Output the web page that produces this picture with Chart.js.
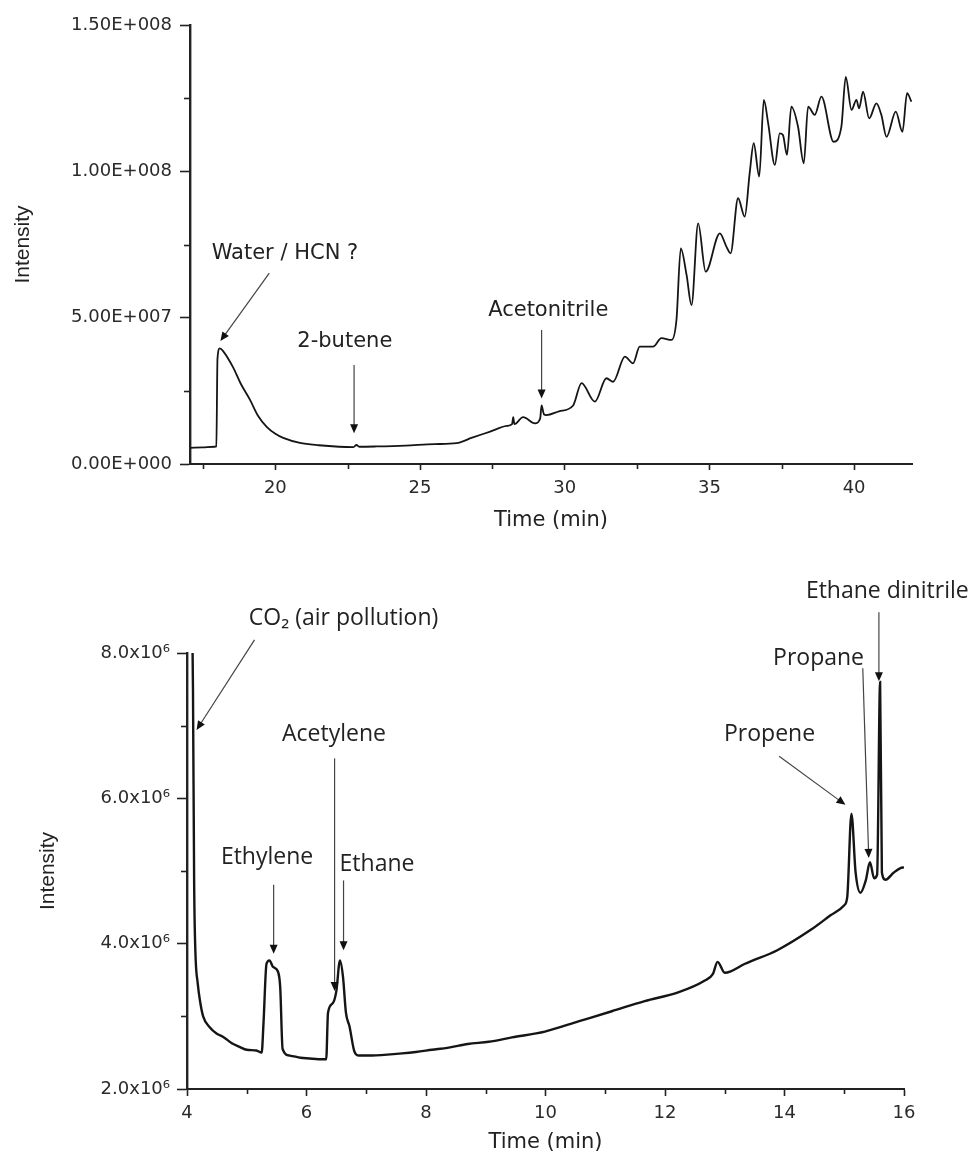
<!DOCTYPE html>
<html>
<head>
<meta charset="utf-8">
<script src="https://cdn.jsdelivr.net/npm/chart.js@4/dist/chart.umd.min.js"></script>
<style>
body { margin: 0; background: #fff; width: 979px; height: 1158px; overflow: hidden; position: relative; }
canvas { position: absolute; left: 0; }
#topChart { top: 0; }
#bottomChart { top: 545px; }
</style>
</head>
<body>
<canvas id="topChart" width="979" height="545"></canvas>
<canvas id="bottomChart" width="979" height="613"></canvas>
<script>
// upper chromatogram (17-42 min)
var topTime = [17.05, 17.5, 17.9, 17.96, 18.0, 18.08, 18.2, 18.54, 18.8, 19.12, 19.4, 19.7, 20.0, 20.27, 20.85,
  21.5, 22.2, 22.7, 22.8, 22.9, 23.5, 24.5, 25.5, 26.26, 26.8, 27.4, 28.0, 28.18, 28.22, 28.26, 28.56, 28.97,
  29.15, 29.2, 29.28, 29.37, 29.8, 30.29, 30.58, 31.04, 31.44, 31.67, 32.08, 32.36, 32.59, 33.05, 33.34, 33.69,
  33.86, 34.01, 34.21, 34.38, 34.61, 34.87, 35.36, 35.59, 35.73, 35.99, 36.22, 36.39, 36.53, 36.72, 36.88, 37.03,
  37.26, 37.43, 37.54, 37.68, 37.83, 38.06, 38.26, 38.41, 38.64, 38.87, 39.29, 39.56, 39.71, 39.91, 40.08, 40.17,
  40.31, 40.52, 40.77, 40.94, 41.12, 41.44, 41.67, 41.83, 41.98];
var topIntensity = [5.5e6, 5.7e6, 5.9e6, 6.0e6, 3.6e7, 3.95e7, 3.85e7, 3.3e7, 2.75e7, 2.2e7, 1.65e7, 1.27e7, 1.03e7, 8.9e6, 7.2e6,
  6.4e6, 5.9e6, 5.8e6, 6.5e6, 5.9e6, 6.0e6, 6.3e6, 6.8e6, 7.1e6, 9.0e6, 1.1e7, 1.3e7, 1.36e7, 1.6e7, 1.36e7, 1.6e7, 1.39e7,
  1.55e7, 2.0e7, 1.7e7, 1.67e7, 1.8e7, 2.0e7, 2.76e7, 2.13e7, 2.93e7, 2.81e7, 3.67e7, 3.44e7, 4.01e7, 4.01e7, 4.3e7, 4.24e7,
  4.92e7, 7.37e7, 6.46e7, 5.43e7, 8.22e7, 6.57e7, 7.88e7, 7.42e7, 7.2e7, 9.08e7, 8.45e7, 9.93e7, 1.096e8, 9.82e7, 1.244e8, 1.164e8,
  1.022e8, 1.13e8, 1.124e8, 1.056e8, 1.221e8, 1.153e8, 1.027e8, 1.221e8, 1.193e8, 1.255e8, 1.101e8, 1.153e8, 1.323e8, 1.21e8, 1.244e8, 1.215e8,
  1.272e8, 1.181e8, 1.232e8, 1.193e8, 1.118e8, 1.204e8, 1.135e8, 1.267e8, 1.238e8];
var topXTicks = [20, 25, 30, 35, 40];
var topXMinor = [17.5, 22.5, 27.5, 32.5, 37.5];
var topYTicks = [0, 5e7, 1e8, 1.5e8];
var topYLabels = ['0.00E+000', '5.00E+007', '1.00E+008', '1.50E+008'];
var topYMinor = [2.5e7, 7.5e7, 1.25e8];

// lower chromatogram (4-16 min)
var botTime = [4.08, 4.10, 4.12, 4.14, 4.18, 4.22, 4.27, 4.38, 4.5, 4.6, 4.75, 4.88, 5.0, 5.16, 5.25, 5.28, 5.33, 5.38,
  5.44, 5.52, 5.56, 5.6, 5.72, 5.9, 6.05, 6.2, 6.33, 6.36, 6.44, 6.5, 6.56, 6.61, 6.66, 6.72, 6.8, 6.88, 7.1, 7.3,
  7.6, 7.83, 8.1, 8.38, 8.7, 9.05, 9.44, 9.99, 10.55, 11.11, 11.66, 12.22, 12.66, 12.8, 12.88, 13.0, 13.1, 13.33,
  13.88, 14.44, 14.77, 15.0, 15.05, 15.12, 15.19, 15.27, 15.36, 15.43, 15.5, 15.55, 15.6, 15.63, 15.69, 15.83, 15.94, 16.0];
var botIntensity = [9.0e6, 7.5e6, 4.8e6, 3.9e6, 3.45e6, 3.2e6, 3.0e6, 2.85e6, 2.76e6, 2.72e6, 2.63e6, 2.58e6, 2.54e6, 2.53e6, 2.5e6, 2.9e6, 3.72e6, 3.77e6,
  3.68e6, 3.62e6, 3.4e6, 2.55e6, 2.46e6, 2.43e6, 2.42e6, 2.41e6, 2.41e6, 3.05e6, 3.18e6, 3.35e6, 3.77e6, 3.55e6, 3.05e6, 2.86e6, 2.52e6, 2.46e6, 2.46e6, 2.47e6,
  2.49e6, 2.51e6, 2.54e6, 2.57e6, 2.62e6, 2.65e6, 2.71e6, 2.79e6, 2.93e6, 3.07e6, 3.21e6, 3.33e6, 3.49e6, 3.58e6, 3.75e6, 3.6e6, 3.62e6, 3.72e6,
  3.91e6, 4.19e6, 4.39e6, 4.53e6, 4.64e6, 5.79e6, 4.98e6, 4.7e6, 4.87e6, 5.12e6, 4.9e6, 4.95e6, 7.6e6, 4.98e6, 4.88e6, 4.98e6, 5.04e6, 5.05e6];
var botXTicks = [4, 6, 8, 10, 12, 14, 16];
var botXMinor = [5, 7, 9, 11, 13, 15];
var botYTicks = [2e6, 4e6, 6e6, 8e6];
var botYLabels = ['2.0x10⁶', '4.0x10⁶', '6.0x10⁶', '8.0x10⁶'];
var botYMinor = [3e6, 5e6, 7e6];

// peak labels, placed in data units: text centre, arrow start, arrow tip
var topNotes = [
  { text: 'Water / HCN ?', at: [20.33, 7.2e7], from: [19.79, 6.52e7], to: [18.1, 4.2e7] },
  { text: '2-butene', at: [22.4, 4.17e7], from: [22.72, 3.38e7], to: [22.72, 1.05e7] },
  { text: 'Acetonitrile', at: [29.43, 5.26e7], from: [29.2, 4.58e7], to: [29.2, 2.24e7] }
];
var botNotes = [
  { text: 'CO₂ (air pollution)', at: [6.62, 8.47e6], from: [5.13, 8.18e6], to: [4.16, 6.94e6] },
  { text: 'Acetylene', at: [6.46, 6.88e6], from: [6.47, 6.55e6], to: [6.47, 3.35e6] },
  { text: 'Ethylene', at: [5.34, 5.18e6], from: [5.45, 4.81e6], to: [5.45, 3.86e6] },
  { text: 'Ethane', at: [7.18, 5.09e6], from: [6.62, 4.87e6], to: [6.62, 3.91e6] },
  { text: 'Propene', at: [13.75, 6.88e6], from: [13.91, 6.58e6], to: [15.02, 5.91e6] },
  { text: 'Propane', at: [14.57, 7.93e6], from: [15.31, 7.79e6], to: [15.41, 5.18e6] },
  { text: 'Ethane dinitrile', at: [15.72, 8.85e6], from: [15.58, 8.56e6], to: [15.58, 7.61e6] }
];

var ink = '#222';

// minor ticks and arrow labels
var decor = {
  id: 'decor',
  afterDraw: function (chart, args, opt) {
    var ctx = chart.ctx, xs = chart.scales.x, ys = chart.scales.y;
    ctx.save();
    ctx.strokeStyle = ink;
    ctx.lineWidth = 1.6;
    opt.xMinor.forEach(function (v) {
      var p = Math.round(xs.getPixelForValue(v)) + 0.5;
      ctx.beginPath(); ctx.moveTo(p, xs.top); ctx.lineTo(p, xs.top + 5); ctx.stroke();
    });
    opt.yMinor.forEach(function (v) {
      var p = Math.round(ys.getPixelForValue(v)) + 0.5;
      ctx.beginPath(); ctx.moveTo(ys.right, p); ctx.lineTo(ys.right - 6, p); ctx.stroke();
    });
    ctx.font = opt.font;
    ctx.fillStyle = ink;
    ctx.textAlign = 'center';
    ctx.textBaseline = 'middle';
    opt.notes.forEach(function (n) {
      ctx.fillText(n.text, xs.getPixelForValue(n.at[0]), ys.getPixelForValue(n.at[1]));
      var x1 = xs.getPixelForValue(n.from[0]), y1 = ys.getPixelForValue(n.from[1]);
      var x2 = xs.getPixelForValue(n.to[0]), y2 = ys.getPixelForValue(n.to[1]);
      var a = Math.atan2(y2 - y1, x2 - x1);
      ctx.strokeStyle = '#444';
      ctx.lineWidth = 1.2;
      ctx.beginPath(); ctx.moveTo(x1, y1); ctx.lineTo(x2 - 8 * Math.cos(a), y2 - 8 * Math.sin(a)); ctx.stroke();
      ctx.fillStyle = '#111';
      ctx.beginPath();
      ctx.moveTo(x2, y2);
      ctx.lineTo(x2 - 9 * Math.cos(a) + 4 * Math.sin(a), y2 - 9 * Math.sin(a) - 4 * Math.cos(a));
      ctx.lineTo(x2 - 9 * Math.cos(a) - 4 * Math.sin(a), y2 - 9 * Math.sin(a) + 4 * Math.cos(a));
      ctx.closePath(); ctx.fill();
      ctx.fillStyle = ink;
    });
    ctx.restore();
  }
};

function makeChart(id, cfg) {
  return new Chart(document.getElementById(id), {
    type: 'line',
    data: {
      datasets: [{
        data: cfg.time.map(function (t, i) { return { x: t, y: cfg.values[i] }; }),
        borderColor: '#151515',
        borderWidth: cfg.lineWidth,
        pointRadius: 0,
        cubicInterpolationMode: 'monotone',
        fill: false
      }]
    },
    options: {
      responsive: false,
      animation: false,
      devicePixelRatio: 1,
      layout: { padding: { top: cfg.padTop, right: cfg.padRight, left: 0, bottom: 0 } },
      plugins: {
        legend: { display: false },
        tooltip: { enabled: false },
        decor: { xMinor: cfg.xMinor, yMinor: cfg.yMinor, notes: cfg.notes, font: cfg.noteFont }
      },
      scales: {
        x: {
          type: 'linear',
          min: cfg.xMin, max: cfg.xMax,
          afterBuildTicks: function (s) { s.ticks = cfg.xTicks.map(function (v) { return { value: v }; }); },
          afterFit: function (s) { s.height = cfg.xHeight; },
          border: { display: true, color: ink, width: 2 },
          grid: { drawOnChartArea: false, drawTicks: true, tickLength: cfg.xTickLen, tickColor: ink, tickWidth: 1.6 },
          ticks: { color: '#2a2a2a', padding: cfg.xTickPad, maxRotation: 0, font: { family: 'DejaVu Sans', size: 18 } },
          title: { display: true, text: 'Time (min)', color: ink, padding: { top: 0, bottom: cfg.xTitlePad },
            font: { family: 'DejaVu Sans', size: 21 } }
        },
        y: {
          min: cfg.yMin, max: cfg.yMax,
          afterBuildTicks: function (s) { s.ticks = cfg.yTicks.map(function (v) { return { value: v }; }); },
          afterFit: function (s) { s.width = cfg.yWidth; },
          border: { display: true, color: ink, width: 2.4 },
          grid: { drawOnChartArea: false, drawTicks: true, tickLength: 10, tickColor: ink, tickWidth: 1.6 },
          ticks: {
            color: '#2a2a2a', padding: cfg.yTickPad, font: { family: 'DejaVu Sans', size: 18 },
            callback: function (v) { return cfg.yLabels[cfg.yTicks.indexOf(v)]; }
          },
          title: { display: true, text: 'Intensity', color: ink, padding: { top: cfg.yTitlePad, bottom: 0 },
            font: { family: 'Liberation Sans', size: 21 } }
        }
      }
    },
    plugins: [decor]
  });
}

makeChart('topChart', {
  time: topTime, values: topIntensity, lineWidth: 1.8,
  xMin: 17.05, xMax: 42.0, yMin: 0, yMax: 1.5e8,
  xTicks: topXTicks, xMinor: topXMinor, yTicks: topYTicks, yLabels: topYLabels, yMinor: topYMinor,
  notes: topNotes, noteFont: '21px "DejaVu Sans"',
  padTop: 25, padRight: 67, xHeight: 81, yWidth: 190,
  xTickLen: 6, xTickPad: 8, xTitlePad: 12, yTickPad: 8, yTitlePad: 11
});

makeChart('bottomChart', {
  time: botTime, values: botIntensity, lineWidth: 2.4,
  xMin: 4, xMax: 16, yMin: 2e6, yMax: 8e6,
  xTicks: botXTicks, xMinor: botXMinor, yTicks: botYTicks, yLabels: botYLabels, yMinor: botYMinor,
  notes: botNotes, noteFont: '23px "Open Sans"',
  padTop: 108, padRight: 75, xHeight: 69, yWidth: 187,
  xTickLen: 7, xTickPad: 7, xTitlePad: 3, yTickPad: 7, yTitlePad: 36
});
</script>
</body>
</html>
